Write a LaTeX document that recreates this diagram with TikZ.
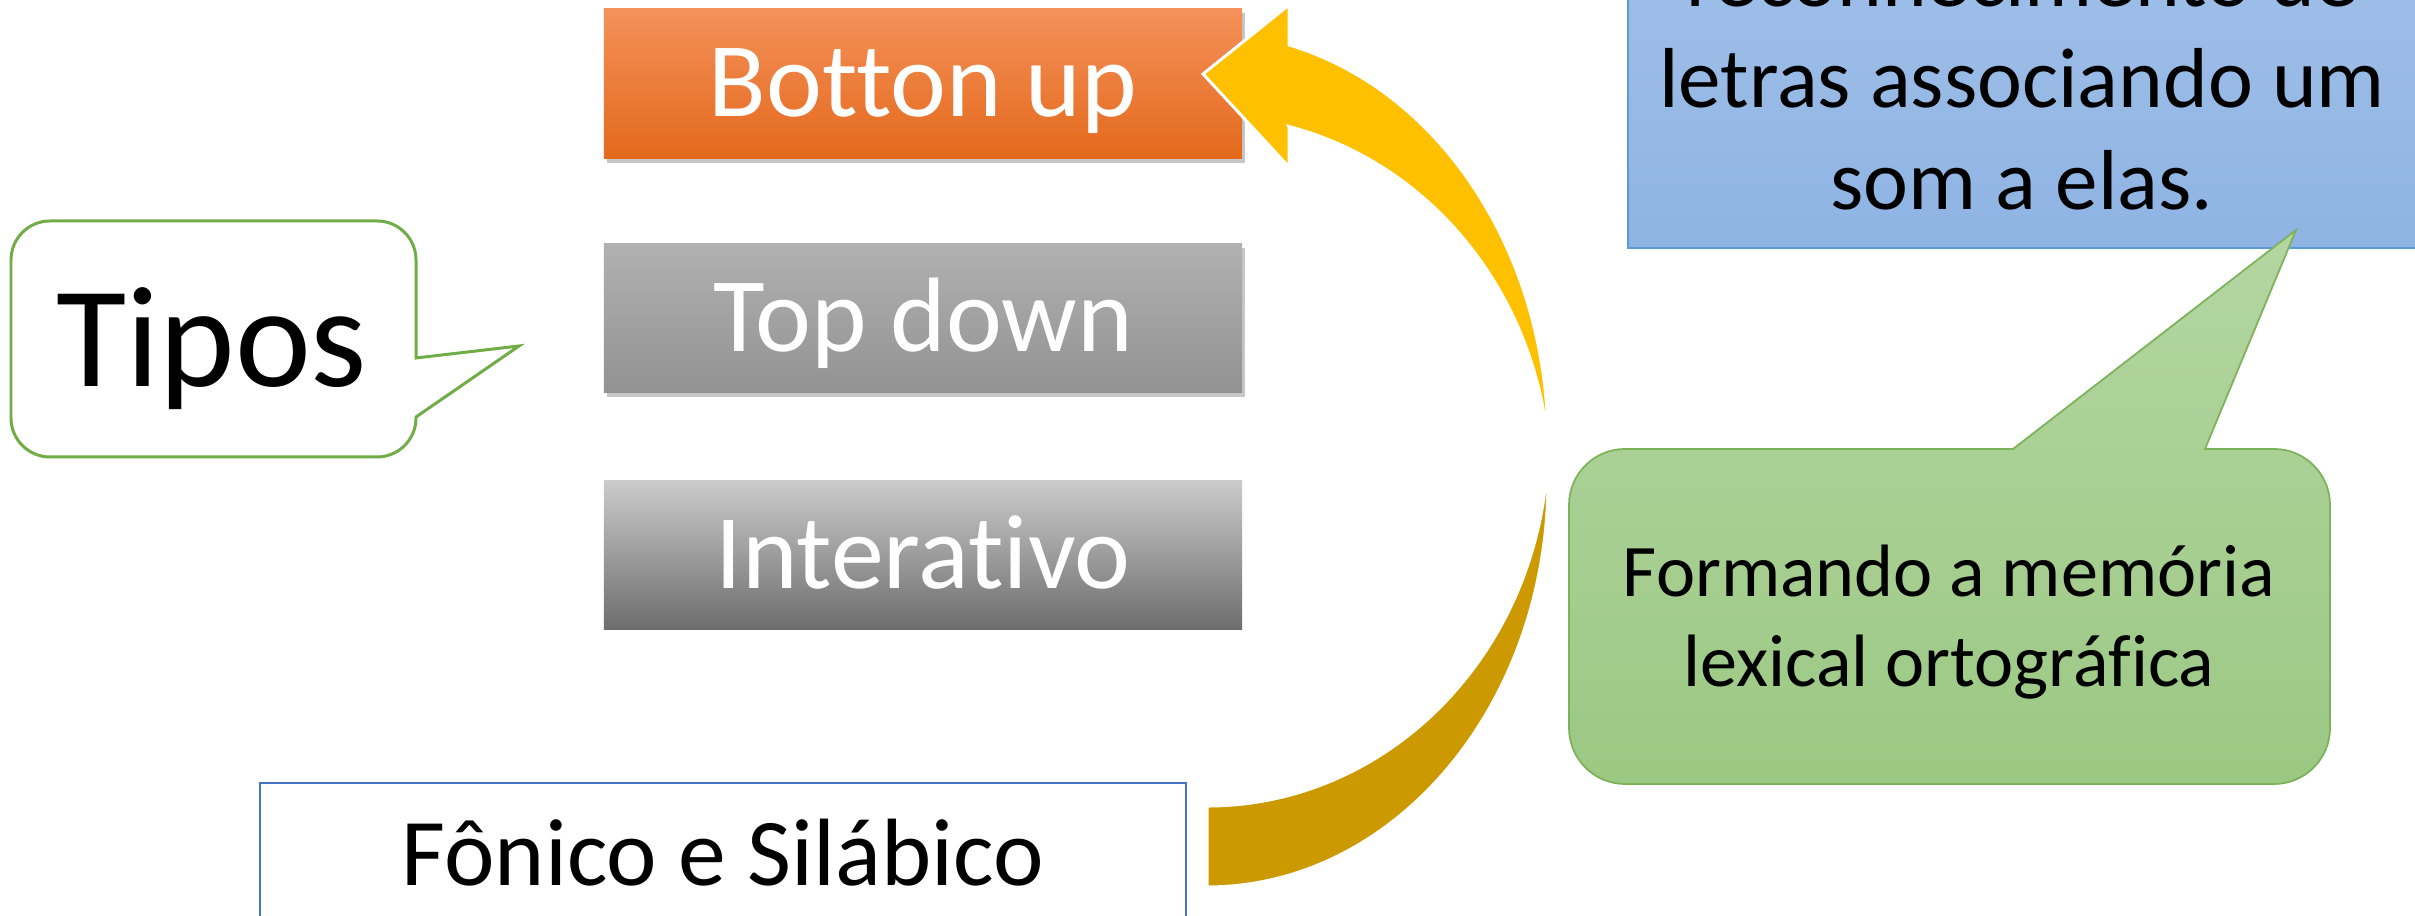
\documentclass[tikz,border=0pt]{standalone}
\usepackage{fontspec}
\setmainfont{Carlito}[Ligatures=NoCommon]
\usepackage{tikz}
\usetikzlibrary{shadows}
\usetikzlibrary{positioning}
\definecolor{laranjaTop}{HTML}{F4915A}
\definecolor{laranjaBot}{HTML}{E4691C}
\definecolor{cinzaTop}{HTML}{B1B1B1}
\definecolor{cinzaBot}{HTML}{929292}
\definecolor{cinzaClaro}{HTML}{CBCBCB}
\definecolor{cinzaEsc}{HTML}{6D6D6D}
\definecolor{verdeBorda}{HTML}{70AD47}
\definecolor{verdeLinha}{HTML}{7CB25A}
\definecolor{verdeTop}{HTML}{B4D6A2}
\definecolor{verdeBot}{HTML}{9BC883}
\definecolor{azulTop}{HTML}{A1C0E8}
\definecolor{azulBot}{HTML}{8FB4E3}
\definecolor{azulBorda}{HTML}{5B9BD5}
\definecolor{azulCaixa}{HTML}{4472C4}
\definecolor{setaClara}{HTML}{FFC000}
\definecolor{setaEsc}{HTML}{CC9A00}

\begin{document}
\begin{tikzpicture}[
  x=0.01cm, y=0.01cm,
  tipo/.style 2 args={
    rectangle,
    minimum width=6.38cm,
    minimum height=1.49cm,
    inner sep=0pt,
    top color=#1,
    bottom color=#2},
  sombra/.style={
    drop shadow={shadow xshift=0.03cm, shadow yshift=-0.045cm,
      opacity=0.22, fill=black}},
  semsombra/.style={},
  rot/.style 2 args={
    anchor=base,
    inner sep=0pt,
    align=center,
    font=\fontsize{#1}{#2}\selectfont},
]

  \useasboundingbox (0,0) rectangle (2415,916);
  \clip (0,0) rectangle (2415,916);
  \fill[white] (0,0) rectangle (2415,916);

  % Tipos de leitura
  \foreach \nome/\ypos/\topc/\botc/\sh/\txt in {
      botton/832.5/laranjaTop/laranjaBot/sombra/Botton up,
      topdown/598/cinzaTop/cinzaBot/sombra/Top down,
      interativo/361/cinzaClaro/cinzaEsc/semsombra/Interativo} {
    \node[tipo={\topc}{\botc}, \sh] (\nome) at (923, \ypos) {};
    \node[rot={30.1pt}{36pt}, text=white] (\nome-txt)
        at (923, \ypos-33.5) {\txt};
  }

  % Balao Tipos
  \draw[verdeBorda, line width=0.85pt, fill=white]
    (416,558) -- (519,570) -- (416,499) -- (416,498)
    arc[start angle=0, end angle=-90, radius=39] -- (50,459)
    arc[start angle=270, end angle=180, radius=39] -- (11,656)
    arc[start angle=180, end angle=90, radius=39] -- (377,695)
    arc[start angle=90, end angle=0, radius=39] -- cycle;
  \node[rot={40.9pt}{49pt}] (tipos) at (212,529) {Tipos};

  % Caixa azul
  \node[draw=azulBorda, line width=0.5pt, top color=azulTop,
      bottom color=azulBot, minimum width=7.88cm, minimum height=3.32cm,
      inner sep=0pt] (reconhec) at (2022,834) {};
  \node[rot={24.2pt}{29pt}] (reconhec-txt) at (2022,706)
    {reconhecimento de\\letras associando um\\som a elas.};

  % Balao verde
  \draw[verdeLinha, line width=0.5pt, top color=verdeTop,
      bottom color=verdeBot]
    (2013,467) -- (2296,686) -- (2205,467) -- (2274,467)
    arc[start angle=90, end angle=0, radius=56] -- (2330,188)
    arc[start angle=0, end angle=-90, radius=56] -- (1625,132)
    arc[start angle=270, end angle=180, radius=56] -- (1569,411)
    arc[start angle=180, end angle=90, radius=56] -- cycle;
  \node[rot={21.1pt}{25.6pt}] (memoria) at (1949,229)
    {Formando a memória\\lexical ortográfica};

  % Fonico e Silabico
  \node[draw=azulCaixa, line width=0.6pt, fill=white,
      minimum width=9.26cm, minimum height=1.46cm,
      inner sep=0pt] (fonico) at (723,60) {};
  \node[rot={27.2pt}{33pt}] (fonico-txt) at (723,30) {Fônico e Silábico};

  % Seta curva
  \filldraw[setaEsc, draw=white, line width=0.85pt]
    (1207,29) arc[start angle=-90, end angle=0, x radius=341, y radius=407]
    -- (1546.1,436)
    arc[start angle=-6.27, end angle=-90, x radius=341, y radius=366]
    -- cycle;
  \filldraw[setaClara, draw=white, line width=0.85pt]
    (1289,789) -- (1289,749) -- (1203,842) -- (1289,911) -- (1289,871)
    arc[start angle=76.08, end angle=0, x radius=341, y radius=410]
    arc[start angle=5.83, end angle=76.17, x radius=343, y radius=364]
    -- cycle;

\end{tikzpicture}
\end{document}
